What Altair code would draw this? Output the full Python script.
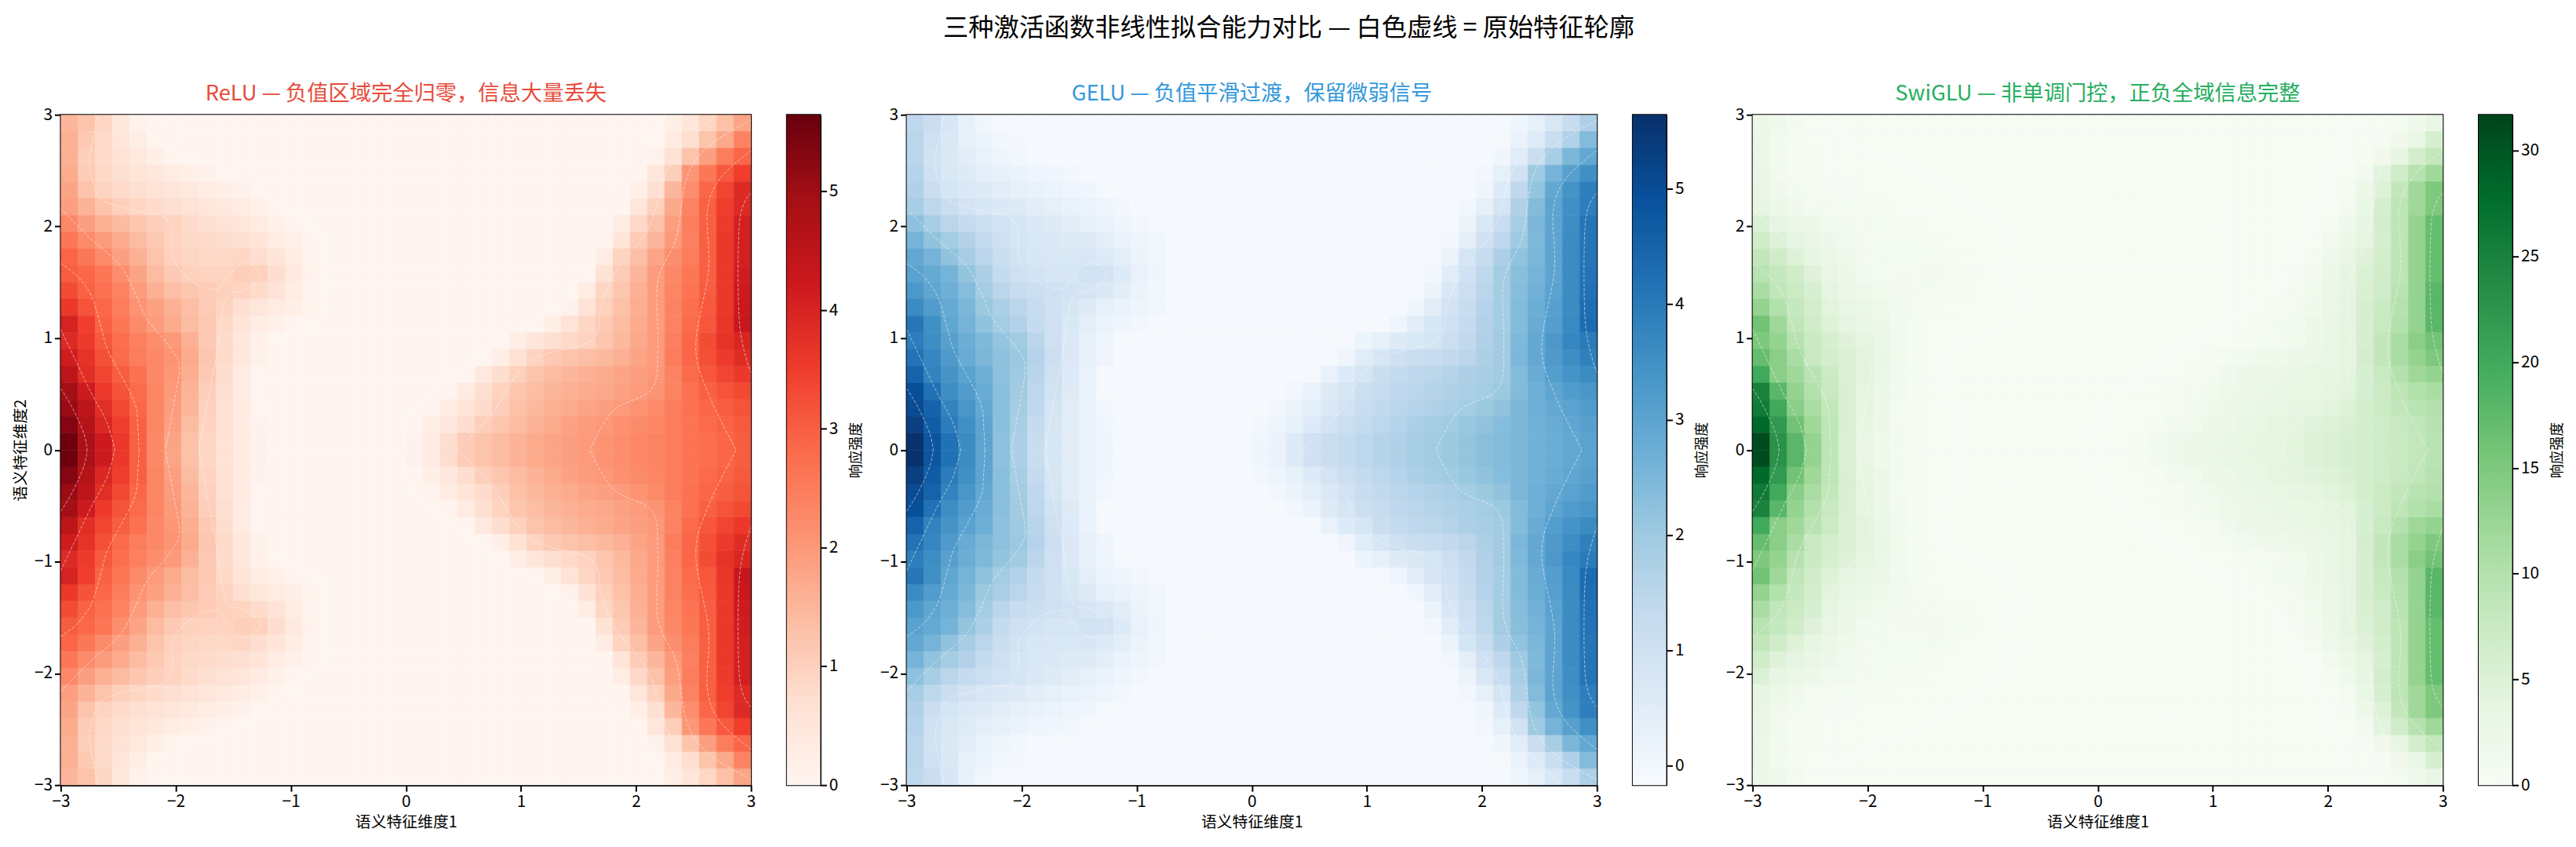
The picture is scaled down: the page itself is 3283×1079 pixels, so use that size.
import altair as alt
import pandas as pd

FONT = "Noto Sans CJK SC"

X_EDGES = [round(-3 + 0.15 * i, 2) for i in range(41)]
Y_EDGES = [round(3 - 0.15 * i, 2) for i in range(21)]

RELU = [
[1.5,1.25,.9,.45,.1]+[0]*30+[.2,.5,.9,1.3,1.8],
[1.6,1.15,.8,.5,.25,.05,.02]+[0]*28+[.35,.75,1.25,1.75,2.4],
[1.6,1.05,.8,.6,.4,.2,.05]+[0]*27+[.1,.65,1.25,1.9,2.5,2.9],
[1.7,1.1,.85,.7,.55,.45,.3,.2,.1,.02]+[0]*23+[.05,.5,1.05,2.05,2.6,3.1,3.5],
[1.8,1.25,.95,.8,.7,.6,.5,.4,.3,.2,.1]+[0]*22+[.2,.7,1.5,2.2,2.9,3.4,3.9],
[1.9,1.55,1.25,1.02,.9,.8,.7,.6,.5,.4,.3,.15,.02]+[0]*19+[.05,.5,1.0,1.75,2.4,3.0,3.5,3.9],
[2.3,1.9,1.6,1.4,1.2,1.05,.95,.8,.7,.6,.5,.35,.15,.02]+[0]*18+[.3,.85,1.3,1.9,2.5,3.0,3.55,4.1],
[2.6,2.25,1.95,1.7,1.4,1.15,.95,.85,.8,.75,.7,.55,.35,.15,.03]+[0]*16+[.05,.55,1.1,1.5,2.0,2.45,3.0,3.6,4.1],
[2.9,2.6,2.25,1.9,1.6,1.25,1.0,.9,.85,.85,.9,.75,.55,.3,.08]+[0]*16+[.3,.95,1.35,1.8,2.2,2.5,3.0,3.6,4.1],
[3.05,2.85,2.6,2.2,1.8,1.4,1.15,1.0,.95,.95,1.05,1.0,.75,.4,.1]+[0]*15+[.02,.65,1.1,1.5,1.95,2.3,2.6,3.0,3.6,4.15],
[3.3,2.95,2.7,2.4,1.95,1.6,1.35,1.2,1.1,1.0,.95,.8,.6,.3,.08]+[0]*15+[.3,.9,1.2,1.6,1.95,2.35,2.65,3.05,3.6,4.2],
[3.6,3.2,2.85,2.5,2.1,1.85,1.6,1.35,1.1,.95,.7,.5,.35,.2,.05]+[0]*14+[.1,.6,1.0,1.3,1.65,1.95,2.4,2.75,3.1,3.6,4.25],
[4.05,3.5,2.95,2.6,2.25,1.95,1.7,1.4,1.15,.85,.55,.3,.15,.03]+[0]*14+[.2,.6,.9,1.15,1.4,1.7,1.95,2.4,2.8,3.15,3.65,4.3],
[3.9,3.55,3.1,2.75,2.45,2.2,2.0,1.6,1.15,.8,.45,.15]+[0]*14+[.25,.5,.7,.85,.98,1.2,1.45,1.75,1.98,2.45,2.9,3.3,3.7,3.98],
[4.15,3.7,3.25,2.8,2.5,2.3,2.1,1.7,1.2,.8,.45,.15]+[0]*13+[.2,.65,.95,1.15,1.25,1.35,1.45,1.6,1.8,1.98,2.5,2.9,3.25,3.55,3.85],
[4.5,3.8,3.4,3.05,2.7,2.3,2.05,1.65,1.15,.75,.35]+[0]*13+[.4,.75,1.0,1.25,1.4,1.5,1.6,1.7,1.8,1.9,2.02,2.4,2.8,3.15,3.4,3.6],
[4.95,4.2,3.55,3.2,2.8,2.35,2.0,1.55,1.05,.7,.35]+[0]*11+[.05,.35,.7,.95,1.2,1.35,1.5,1.6,1.7,1.75,1.85,1.95,2.1,2.4,2.7,3.0,3.2,3.35],
[5.05,4.5,3.8,3.35,2.9,2.35,1.95,1.5,1.0,.65,.35,.05]+[0]*9+[.05,.3,.55,.8,1.05,1.3,1.45,1.6,1.7,1.8,1.9,1.98,2.1,2.25,2.5,2.7,2.9,3.05,3.2],
[5.3,4.65,3.95,3.5,3.0,2.35,1.9,1.4,.95,.65,.35,.1]+[0]*8+[.03,.2,.45,.75,1.03,1.2,1.4,1.55,1.7,1.85,1.95,2.03,2.15,2.25,2.35,2.5,2.65,2.8,2.95,3.1],
[5.55,4.8,4.2,3.6,3.0,2.3,1.8,1.3,.9,.6,.35,.1]+[0]*8+[.1,.35,.75,1.1,1.25,1.4,1.55,1.7,1.8,1.9,1.98,2.1,2.2,2.3,2.4,2.5,2.65,2.75,2.9,3.05],
]

GELU = [
[1.4,1.15,.75,.3,.05]+[-.1]*30+[.1,.35,.75,1.2,1.75],
[1.5,1.05,.65,.35,.15,0,-.05]+[-.1]*28+[.22,.6,1.15,1.7,2.4],
[1.5,.95,.65,.45,.25,.1,0]+[-.1]*27+[.05,.5,1.15,1.85,2.5,2.9],
[1.6,1.0,.7,.55,.4,.3,.2,.1,.05,0]+[-.1]*23+[0,.35,.95,2.0,2.6,3.1,3.5],
[1.7,1.15,.85,.65,.55,.45,.35,.25,.18,.1,.05]+[-.1]*22+[.1,.55,1.4,2.15,2.9,3.4,3.9],
[1.85,1.45,1.15,.9,.75,.65,.55,.45,.35,.25,.18,.08,0]+[-.1]*19+[0,.35,.85,1.7,2.4,3.0,3.5,3.9],
[2.25,1.85,1.5,1.3,1.1,.95,.85,.65,.55,.45,.35,.22,.08,0]+[-.1]*18+[.18,.7,1.2,1.85,2.5,3.0,3.55,4.1],
[2.6,2.2,1.9,1.65,1.3,1.05,.85,.7,.65,.6,.55,.4,.22,.08,0]+[-.1]*16+[0,.4,1.0,1.4,2.0,2.45,3.0,3.6,4.1],
[2.9,2.6,2.2,1.85,1.5,1.15,.9,.75,.7,.7,.75,.6,.4,.18,.03]+[-.1]*16+[.18,.85,1.25,1.75,2.2,2.5,3.0,3.6,4.1],
[3.05,2.85,2.6,2.15,1.75,1.3,1.05,.9,.8,.8,.95,.9,.6,.25,.05]+[-.1]*15+[0,.5,1.0,1.4,1.9,2.3,2.6,3.0,3.6,4.15],
[3.3,2.95,2.7,2.35,1.9,1.5,1.25,1.1,1.0,.9,.8,.65,.45,.18,.03]+[-.1]*15+[.18,.75,1.1,1.5,1.9,2.35,2.65,3.05,3.6,4.2],
[3.6,3.2,2.85,2.5,2.05,1.8,1.5,1.25,1.0,.8,.55,.35,.22,.1,0]+[-.1]*14+[.05,.45,.9,1.2,1.6,1.9,2.4,2.75,3.1,3.6,4.25],
[4.05,3.5,2.95,2.6,2.2,1.9,1.65,1.3,1.05,.7,.4,.18,.08,0]+[-.1]*14+[.1,.45,.75,1.05,1.3,1.65,1.9,2.4,2.8,3.15,3.65,4.3],
[3.9,3.55,3.1,2.75,2.45,2.15,1.95,1.5,1.05,.65,.3,.08]+[-.1]*14+[.15,.35,.55,.7,.85,1.1,1.35,1.7,1.95,2.45,2.9,3.3,3.7,3.98],
[4.15,3.7,3.25,2.8,2.5,2.25,2.05,1.6,1.1,.65,.3,.08]+[-.1]*13+[.1,.5,.8,1.05,1.15,1.25,1.35,1.5,1.75,1.95,2.5,2.9,3.25,3.55,3.85],
[4.5,3.8,3.4,3.05,2.7,2.25,2.0,1.55,1.05,.6,.22]+[-.1]*13+[.25,.6,.85,1.15,1.3,1.4,1.5,1.6,1.75,1.85,1.98,2.4,2.8,3.15,3.4,3.6],
[4.95,4.2,3.55,3.2,2.8,2.3,1.95,1.45,.95,.55,.22]+[-.1]*11+[0,.22,.55,.8,1.1,1.25,1.4,1.5,1.6,1.7,1.8,1.9,2.05,2.4,2.7,3.0,3.2,3.35],
[5.05,4.5,3.8,3.35,2.9,2.3,1.9,1.4,.85,.5,.22,0]+[-.1]*9+[0,.18,.4,.65,.95,1.2,1.35,1.5,1.6,1.7,1.8,1.9,2.05,2.2,2.5,2.7,2.9,3.05,3.2],
[5.3,4.65,3.95,3.5,3.0,2.3,1.85,1.3,.8,.5,.22,.05]+[-.1]*8+[0,.1,.3,.6,.9,1.1,1.3,1.45,1.6,1.75,1.9,1.98,2.1,2.2,2.35,2.5,2.65,2.8,2.95,3.1],
[5.6,4.8,4.2,3.6,3.0,2.25,1.75,1.2,.75,.45,.22,.05]+[-.1]*8+[.05,.22,.6,1.0,1.15,1.3,1.45,1.6,1.7,1.85,1.95,2.05,2.15,2.3,2.4,2.5,2.65,2.75,2.9,3.05],
]

SWIGLU = [
[2.3,1.6,.8,.3,.2]+[.2]*30+[.2,.3,.8,1.7,3.2],
[2.6,1.3,.7,.3,.2,.2,.2]+[.2]*28+[.2,.6,1.6,3,5.8],
[2.6,1.1,.6,.4,.2,.2,.2]+[.2]*27+[.2,.4,1.6,3.6,6.3,8.4],
[2.9,1.2,.7,.5,.3,.2,.2,.2,.2,.2]+[.2]*23+[.2,.3,1.1,4.2,6.8,9.6,12],
[3.2,1.6,.9,.6,.5,.4,.3,.2,.2,.2,.2]+[.2]*22+[.2,.5,2.2,4.8,8.4,12,15],
[3.6,2.4,1.6,1,.8,.6,.5,.4,.3,.2,.2,.2,.2]+[.2]*19+[.2,.3,1,3,5.8,9,12,15],
[5.3,3.6,2.6,2,1.4,1.1,.9,.6,.5,.4,.3,.2,.2,.2]+[.2]*18+[.2,.7,1.7,3.6,6.3,9,13,17],
[6.8,5.1,3.8,2.9,2,1.3,.9,.7,.6,.6,.5,.3,.2,.2,.2]+[.2]*16+[.2,.3,1.2,2.3,4,6,9,13,17],
[8.4,6.8,5.1,3.6,2.6,1.6,1,.8,.7,.7,.8,.6,.3,.2,.2]+[.2]*16+[.2,.9,1.8,3.2,4.8,6.3,9,13,17],
[9.3,8.1,6.8,4.8,3.2,2,1.3,1,.9,.9,1.1,1,.6,.2,.2]+[.2]*15+[.2,.4,1.2,2.3,3.8,5.3,6.8,9,13,17],
[11,8.7,7.3,5.8,3.8,2.6,1.8,1.4,1.2,1,.9,.6,.4,.2,.2]+[.2]*15+[.2,.8,1.4,2.6,3.8,5.5,7,9.3,13,18],
[13,10,8.1,6.3,4.4,3.4,2.6,1.8,1.2,.9,.5,.3,.2,.2,.2]+[.2]*14+[.2,.4,1,1.7,2.7,3.8,5.8,7.6,9.6,13,18],
[16,12,8.7,6.8,5,3.8,2.9,2,1.3,.7,.3,.2,.2,.2]+[.2]*14+[.2,.4,.8,1.3,2,2.9,3.8,5.8,7.8,10,13,18],
[15,13,9.6,7.6,6,4.8,4,2.6,1.3,.6,.3,.2]+[.2]*14+[.2,.3,.5,.7,1,1.4,2.1,3.1,3.9,6,8.4,11,14,16],
[17,14,11,7.8,6.3,5.3,4.4,2.9,1.4,.6,.3,.2]+[.2]*13+[.2,.4,.9,1.3,1.6,1.8,2.1,2.6,3.2,3.9,6.3,8.4,11,13,15],
[20,14,12,9.3,7.3,5.3,4.2,2.7,1.3,.6,.2]+[.2]*13+[.2,.6,1,1.6,2,2.3,2.6,2.9,3.2,3.6,4.1,5.8,7.8,9.9,12,13],
[25,18,13,10,7.8,5.5,4,2.4,1.1,.5,.2]+[.2]*11+[.2,.2,.5,.9,1.4,1.8,2.3,2.6,2.9,3,3.4,3.8,4.4,5.8,7.3,9,10,11],
[26,20,14,11,8.4,5.5,3.8,2.3,1,.4,.2,.2]+[.2]*9+[.2,.2,.3,.6,1.1,1.7,2.1,2.6,2.9,3.2,3.6,3.9,4.4,5,6.3,7.3,8.4,9.3,10],
[28,22,16,12,9,5.5,3.6,2,.9,.4,.2,.2]+[.2]*8+[.2,.2,.2,.6,1.1,1.4,2,2.4,2.9,3.4,3.8,4.1,4.6,5,5.5,6.3,7,7.8,8.7,9.6],
[31,23,18,13,9,5.3,3.2,1.7,.8,.4,.2,.2]+[.2]*8+[.2,.2,.6,1.2,1.6,2,2.4,2.9,3.2,3.6,3.9,4.4,4.8,5.3,5.8,6.3,7,7.6,8.4,9.3],
]

# Upper half of each white dashed contour, as (x, y)
CONTOURS = [
[(-3,.55),(-2.9,.38),(-2.8,.15),(-2.77,0)],
[(-3,1.08),(-2.87,.8),(-2.73,.5),(-2.6,.25),(-2.53,0)],
[(-3,1.67),(-2.85,1.55),(-2.73,1.37),(-2.65,1.1),(-2.59,.89),(-2.45,.62),(-2.35,.4),(-2.33,.2),(-2.32,0)],
[(-3,2.16),(-2.75,1.9),(-2.49,1.66),(-2.35,1.4),(-2.25,1.17),(-2.05,.92),(-1.97,.74),(-2.02,.4),(-2.09,0)],
[(-2.68,2.98),(-2.75,2.6),(-2.72,2.4),(-2.63,2.23),(-2.3,2.13),(-2.11,2.09),(-2.03,1.95),(-2.02,1.7),(-1.85,1.5),(-1.64,1.44),(-1.55,1.56),(-1.4,1.68),(-1.26,1.56),(-1.4,1.43),(-1.54,1.39),(-1.6,1.2),(-1.64,.89),(-1.72,.45),(-1.8,0)],
[(-2.35,2.98),(-2.11,2.72),(-1.5,2.47),(-.78,1.95),(-.72,1.6),(-.74,1.17),(-1.21,.93),(-1.3,.65),(-1.25,.35),(-1.18,0)],
[(2.68,2.98),(2.3,2.57),(2.11,1.99),(1.83,1.61),(1.7,1.3),(1.61,.98),(1.07,.79),(.74,.31),(.44,0)],
[(3,2.95),(2.63,2.72),(2.44,2.43),(2.35,1.9),(2.19,1.51),(2.19,.93),(2.14,.55),(1.8,.35),(1.6,0)],
[(3,2.68),(2.73,2.43),(2.62,2.14),(2.63,1.61),(2.52,.93),(2.63,.5),(2.87,0)],
[(3,2.3),(2.9,2.04),(2.9,1.13),(3,.69)],
[(2.25,2.98),(2.02,2.43),(1.59,1.51),(.74,.93),(.2,.5),(0,.26),(0,0)],
]

REDS = ["#fff5f0","#fee0d2","#fcbba1","#fc9272","#fb6a4a","#ef3b2c","#cb181d","#a50f15","#67000d"]
BLUES = ["#f7fbff","#deebf7","#c6dbef","#9ecae1","#6baed6","#4292c6","#2171b5","#08519c","#08306b"]
GREENS = ["#f7fcf5","#e5f5e0","#c7e9c0","#a1d99b","#74c476","#41ab5d","#238b45","#006d2c","#00441b"]

TITLES = ["ReLU — 负值区域完全归零，信息大量丢失", "GELU — 负值平滑过渡，保留微弱信号", "SwiGLU — 非单调门控，正负全域信息完整"]
TITLE_COLORS = ["#E74C3C", "#3498DB", "#27AE60"]
RANGES = [(0, 5.645), (-0.168, 5.643), (0, 31.7)]
BAR_TICKS = [[0,1,2,3,4,5], [0,1,2,3,4,5], [0,5,10,15,20,25,30]]
TICKS = [-3,-2,-1,0,1,2,3]
XLABEL = "语义特征维度1"
YLABEL = "语义特征维度2"
BARLABEL = "响应强度"
SUPTITLE = "三种激活函数非线性拟合能力对比 — 白色虚线 = 原始特征轮廓"

PW, PH = 887, 861


def cells(grid):
    rows = []
    for j, row in enumerate(grid):
        assert len(row) == 40, (j, len(row))
        for i, v in enumerate(row):
            for sign in (1, -1):
                rows.append(dict(x0=X_EDGES[i], x1=X_EDGES[i + 1],
                                 y0=sign * Y_EDGES[j], y1=sign * Y_EDGES[j + 1], v=v))
    return pd.DataFrame(rows)


def contours():
    rows = []
    for k, pts in enumerate(CONTOURS):
        for sign, tag in ((1, "a"), (-1, "b")):
            for n, (x, y) in enumerate(pts):
                rows.append(dict(x=x, y=sign * y, c=f"{k}{tag}", n=n))
    return pd.DataFrame(rows)


def panel(grid, colors, lo, hi, title, color, ylabel):
    dom = [lo + (hi - lo) * i / 8 for i in range(9)]
    scale = alt.Scale(domain=dom, range=colors, clamp=True)
    xs = alt.Scale(domain=[-3, 3], nice=False, zero=False)
    ys = alt.Scale(domain=[-3, 3], nice=False, zero=False)
    xax = alt.Axis(values=TICKS, title=XLABEL, format="d", grid=False, titlePadding=6)
    yax = alt.Axis(values=TICKS, title=ylabel, format="d", grid=False, titlePadding=7)
    rect = alt.Chart(cells(grid)).mark_rect(strokeWidth=0.6, clip=True).encode(
        x=alt.X("x0:Q", scale=xs, axis=xax), x2="x1:Q",
        y=alt.Y("y0:Q", scale=ys, axis=yax), y2="y1:Q",
        fill=alt.Fill("v:Q", scale=scale, legend=None),
        stroke=alt.Stroke("v:Q", scale=scale, legend=None),
    )
    line = alt.Chart(contours()).mark_line(
        color="white", strokeWidth=1, strokeDash=[4, 2], opacity=0.55,
        interpolate="cardinal", clip=True,
    ).encode(
        x=alt.X("x:Q", scale=xs), y=alt.Y("y:Q", scale=ys),
        detail="c:N", order="n:Q",
    )
    return alt.layer(rect, line).properties(
        width=PW, height=PH,
        title=alt.TitleParams(title, color=color, fontSize=27.5, font=FONT,
                              fontWeight="normal", offset=2),
    )


def colorbar(colors, lo, hi, ticks):
    grad = alt.LinearGradient(
        gradient="linear", x1=0, x2=0, y1=1, y2=0,
        stops=[alt.GradientStop(offset=i / 8, color=c) for i, c in enumerate(colors)],
    )
    return alt.Chart(pd.DataFrame({"lo": [lo], "hi": [hi]})).mark_rect(color=grad).encode(
        x=alt.value(0), x2=alt.value(43),
        y=alt.Y("lo:Q", scale=alt.Scale(domain=[lo, hi], nice=False, zero=False),
                axis=alt.Axis(orient="right", values=ticks, title=BARLABEL, format="d",
                              grid=False, titleAngle=270, titleBaseline="top",
                              titleFontSize=18, titlePadding=15)),
        y2="hi:Q",
    ).properties(width=43, height=PH)


groups = []
for g, cols, (lo, hi), title, col, ticks, yl in zip(
    [RELU, GELU, SWIGLU], [REDS, BLUES, GREENS], RANGES, TITLES, TITLE_COLORS,
    BAR_TICKS, [YLABEL, None, None],
):
    groups.append(alt.hconcat(panel(g, cols, lo, hi, title, col, yl),
                              colorbar(cols, lo, hi, ticks), spacing=38))

chart = alt.hconcat(*groups, spacing=18).resolve_scale(
    fill="independent", stroke="independent"
).properties(
    title=alt.TitleParams(SUPTITLE, fontSize=32.5, font=FONT, fontWeight="normal",
                          anchor="middle", offset=53, color="black"),
    padding={"left": 7, "right": 5, "top": 8, "bottom": 0},
).configure_view(stroke="black", strokeWidth=2).configure_axis(
    domainColor="black", domainWidth=2, tickColor="black", tickWidth=2, tickSize=8,
    labelFont=FONT, titleFont=FONT, labelFontSize=21, titleFontSize=20,
    labelColor="black", titleColor="black", titleFontWeight="normal", labelPadding=3,
    labelFlush=False,
)

chart.save("out.html", embed_options={"renderer": "svg", "actions": False})
